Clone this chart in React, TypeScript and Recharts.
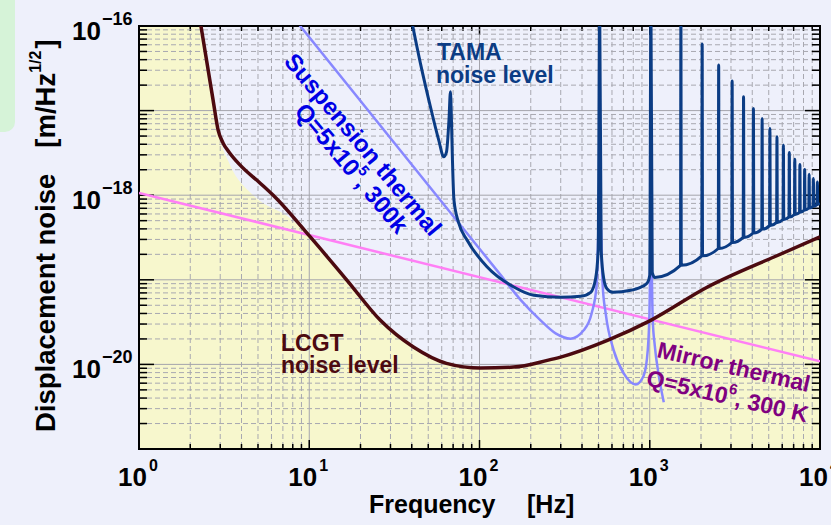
import React from 'react';
import { ComposedChart, Line, Area, XAxis, YAxis, ReferenceLine, ReferenceArea } from 'recharts';

const FONT = '"Liberation Sans", Arial, Helvetica, sans-serif';
const W = 831;
const H = 525;
const MARGIN = { top: 26, right: 11, bottom: 0, left: 0 };
const XAXIS_H = 76;
const YAXIS_W = 139;
const X_DOMAIN: [number, number] = [1, 10000];
const Y_DOMAIN: [number, number] = [1e-21, 1e-16];

// ---------- tick labels / grid values ----------
const xMajorTicks = [1, 10, 100, 1000, 10000];
const xTickExps = ['0', '1', '2', '3', '4'];
const xGridMajor = [10, 100, 1000];
const xGridMinor = [2, 3, 4, 5, 6, 7, 8, 9, 20, 30, 40, 50, 60, 70, 80, 90, 200, 300, 400, 500, 600, 700, 800, 900, 2000, 3000, 4000, 5000, 6000, 7000, 8000, 9000];
const yLabelTicks = [1e-20, 1e-18, 1e-16];
const yTickExps = ['\u221220', '\u221218', '\u221216'];
const yGridMajor = [1e-20, 1e-19, 1e-18, 1e-17];
const yGridMinor = [
  2e-21, 3e-21, 4e-21, 5e-21, 6e-21, 7e-21, 8e-21, 9e-21,
  2e-20, 3e-20, 4e-20, 5e-20, 6e-20, 7e-20, 8e-20, 9e-20,
  2e-19, 3e-19, 4e-19, 5e-19, 6e-19, 7e-19, 8e-19, 9e-19,
  2e-18, 3e-18, 4e-18, 5e-18, 6e-18, 7e-18, 8e-18, 9e-18,
  2e-17, 3e-17, 4e-17, 5e-17, 6e-17, 7e-17, 8e-17, 9e-17,
];

// ---------- series ----------
const lcgtFreq = [2.23, 2.724, 2.915, 3.12, 3.383, 3.928, 5.15, 6.31, 10.14, 16.67, 26.17, 40.91, 63.96, 101.4, 158.5, 250.2, 299.6, 564.0, 1013.7, 2185, 5363, 10000];
const lcgtNoise = [1.55e-16, 1.331e-17, 5.88e-18, 4.124e-18, 3.227e-18, 2.265e-18, 1.387e-18, 9.47e-19, 3.209e-19, 9.86e-20, 3.317e-20, 1.602e-20, 1.027e-20, 9.04e-21, 9.29e-21, 1.115e-20, 1.22e-20, 1.923e-20, 3.317e-20, 8.216e-20, 1.861e-19, 3.209e-19];

// yellow "LCGT sensitivity" region boundary
const yellowFreq = [1, 2.285, 2.724, 2.955, 3.43, 4.684, 7.731, 10.14, 16.67, 26.17, 40.91, 63.96, 101.4, 158.5, 250.2, 299.6, 564.0, 1013.7, 2185, 5363, 10000];
const yellowNoise = [2e-16, 1.0e-16, 1.331e-17, 5.13e-18, 2.265e-18, 1.0e-18, 5.34e-19, 3.209e-19, 9.86e-20, 3.317e-20, 1.602e-20, 1.027e-20, 9.04e-21, 9.29e-21, 1.115e-20, 1.22e-20, 1.923e-20, 3.317e-20, 8.216e-20, 1.861e-19, 3.209e-19];

const mirrorFreq = [1, 10000];
const mirrorNoise = [1.064e-18, 1.085e-20];

const suspFreq = [7.731, 58.96, 132.9, 174.3, 228.5, 280.0, 343.0, 409.1, 455.8, 487.6, 508, 529.0, 551.0, 614.2, 703.4, 827.4, 922.0, 973.2, 993.3, 1016, 1041.6, 1070, 1129.4, 1209];
const suspNoise = [1.402e-16, 8.73e-19, 1.143e-19, 5.8e-20, 3.317e-20, 2.327e-20, 2.014e-20, 2.526e-20, 4.014e-20, 8.61e-20, 8.73e-19, 8.61e-20, 4.014e-20, 1.465e-20, 7.82e-21, 5.8e-21, 7.41e-21, 1.465e-20, 3.317e-20, 2.934e-19, 3.317e-20, 1.679e-20, 7.41e-21, 3.58e-21];

const tamaFreq = [
  39.01, 44.98, 51.5, 57.62, 61.66, 63.96, 66.16, 67.51, 68.43, 69.37, 70.79, 75.24, 84.65, 111.0, 159.1, 208.6, 299.6, 392.8, 449.8, 481.2, 497.8,
  508, 518.5, 536.3, 558.6, 605.9, 773.1, 909.5, 973.2, 1000,
  1016, 1034.4, 1070,
  1516, 1524, 1532, 2022, 2032, 2042, 2527, 2540, 2553, 3033, 3048, 3063, 3538, 3556, 3574,
  4044, 4064, 4084, 4549, 4572, 4595, 5055, 5080, 5105, 5560, 5588, 5616, 6066, 6096, 6126,
  6571, 6604, 6637, 7076, 7112, 7148, 7582, 7620, 7658, 8087, 8128, 8169, 8593, 8636, 8679,
  9098, 9144, 9190, 9604, 9652, 9700, 10000,
];
const tamaNoise = [
  1.465e-16, 3.62e-17, 1.109e-17, 4.475e-18, 2.84e-18, 3.227e-18, 7.72e-18, 1.669e-17, 7.72e-18, 2.596e-18, 8.73e-19, 4.79e-19, 2.934e-19, 1.417e-19, 8.216e-20, 6.554e-20, 6.21e-20, 6.38e-20, 7.11e-20, 1.042e-19, 2.234e-19,
  1.8e-16, 2.234e-19, 1.042e-19, 7.93e-20, 7.11e-20, 7.51e-20, 8.37e-20, 9.34e-20, 1.13e-19,
  1.8e-16, 1.227e-19, 1.067e-19,
  1.481e-19, 1.8e-16, 1.481e-19, 1.919e-19, 6.12e-17, 1.919e-19, 2.345e-19, 3.454e-17, 2.345e-19, 2.762e-19, 2.234e-17, 2.762e-19, 3.173e-19, 1.456e-17, 3.173e-19,
  3.578e-19, 1.062e-17, 3.578e-19, 3.978e-19, 8.08e-18, 3.978e-19, 4.374e-19, 6.155e-18, 4.374e-19, 4.766e-19, 4.898e-18, 4.766e-19, 5.155e-19, 3.905e-18, 5.155e-19,
  5.537e-19, 3.2e-18, 5.537e-19, 5.918e-19, 2.667e-18, 5.918e-19, 6.298e-19, 2.308e-18, 6.298e-19, 6.674e-19, 2.014e-18, 6.674e-19, 7.047e-19, 1.772e-18, 7.047e-19,
  7.42e-19, 1.576e-18, 7.42e-19, 7.789e-19, 1.437e-18, 7.789e-19, 8.04e-19,
];

const zip = (fs: number[], vs: number[]) => fs.map((f, i) => ({ f, v: vs[i] }));
const lcgtData = zip(lcgtFreq, lcgtNoise);
const yellowData = zip(yellowFreq, yellowNoise);
const mirrorData = zip(mirrorFreq, mirrorNoise);
const suspData = zip(suspFreq, suspNoise);
const tamaData = zip(tamaFreq, tamaNoise);

// ---------- colors ----------
const C_TAMA = '#0b3c84';
const C_LCGT = '#4c0a10';
const C_SUSP = '#8888ff';
const C_MIRROR = '#ff7ff5';
const C_BG = '#eef0fb';
const C_YELLOW = '#f7f7cd';

const XTick = (props: any) => {
  const { x, y, payload } = props;
  const i = xMajorTicks.indexOf(payload.value);
  return (
    <g>
      <text x={x + 8} y={y + 37} textAnchor="end" fontSize={26} fontWeight="bold" fontFamily={FONT} fill="#000">10</text>
      <text x={x + 10} y={y + 22} textAnchor="start" fontSize={16} fontWeight="bold" fontFamily={FONT} fill="#000">{xTickExps[i]}</text>
    </g>
  );
};

const YTick = (props: any) => {
  const { x, y, payload } = props;
  const i = yLabelTicks.indexOf(payload.value);
  return (
    <g>
      <text x={x - 38} y={y + 14} textAnchor="end" fontSize={26} fontWeight="bold" fontFamily={FONT} fill="#000">10</text>
      <text x={x - 37} y={y - 1} textAnchor="start" fontSize={18} fontWeight="bold" fontFamily={FONT} fill="#000">{yTickExps[i]}</text>
    </g>
  );
};

const axes = (labels: boolean) => [
  <XAxis
    key="xa"
    type="number"
    dataKey="f"
    scale="log"
    domain={X_DOMAIN}
    allowDataOverflow
    ticks={xMajorTicks}
    interval={0}
    height={XAXIS_H}
    tickSize={0}
    tickMargin={0}
    axisLine={false}
    tickLine={false}
    tick={labels ? (p: any) => <XTick {...p} /> : false}
  />,
  <YAxis
    key="ya"
    type="number"
    dataKey="v"
    scale="log"
    domain={Y_DOMAIN}
    allowDataOverflow
    ticks={yLabelTicks}
    interval={0}
    width={YAXIS_W}
    tickSize={0}
    tickMargin={0}
    axisLine={false}
    tickLine={false}
    tick={labels ? (p: any) => <YTick {...p} /> : false}
  />,
];

const vGrid = (major: boolean) => (p: any) => {
  const top = Math.min(p.y1, p.y2);
  const bot = Math.max(p.y1, p.y2);
  const t = major ? 9 : 5;
  return (
    <g>
      <line x1={p.x1} x2={p.x1} y1={top} y2={bot} stroke={major ? '#a4a4ac' : '#a8a8b0'} strokeWidth={1} strokeDasharray={major ? undefined : '5 3'} />
      <line x1={p.x1} x2={p.x1} y1={bot} y2={bot - t} stroke="#000" strokeWidth={1.5} />
      <line x1={p.x1} x2={p.x1} y1={top} y2={top + t} stroke="#000" strokeWidth={1.5} />
    </g>
  );
};

const hGrid = (major: boolean) => (p: any) => {
  const l = Math.min(p.x1, p.x2);
  const r = Math.max(p.x1, p.x2);
  const t = major ? 15 : 8;
  return (
    <g>
      <line x1={l} x2={r} y1={p.y1} y2={p.y1} stroke={major ? '#a4a4ac' : '#a8a8b0'} strokeWidth={1} strokeDasharray={major ? undefined : '5 3'} />
      <line x1={l} x2={l + t} y1={p.y1} y2={p.y1} stroke="#000" strokeWidth={1.5} />
      <line x1={r} x2={r - t} y1={p.y1} y2={p.y1} stroke="#000" strokeWidth={1.5} />
    </g>
  );
};

const layerStyle: React.CSSProperties = { position: 'absolute', left: 0, top: 0 };

export default function App() {
  return (
    <div style={{ position: 'absolute', left: 0, top: 0, width: W, height: H, background: C_BG, overflow: 'hidden', fontFamily: FONT }}>
      <div style={{ position: 'absolute', left: 0, top: 0, width: 15, height: 132, background: '#d6f3d8', borderBottomRightRadius: 10 }} />

      {/* layer 1: yellow region */}
      <div style={layerStyle}>
        <ComposedChart width={W} height={H} margin={MARGIN}>
          {axes(false)}
          <Area data={yellowData} dataKey="v" type="monotone" baseValue={1e-21} fill={C_YELLOW} fillOpacity={1} stroke="none" isAnimationActive={false} />
        </ComposedChart>
      </div>

      {/* layer 2: grid + inward ticks */}
      <div style={layerStyle}>
        <ComposedChart width={W} height={H} margin={MARGIN}>
          {axes(false)}
          <Line data={mirrorData} dataKey="v" stroke="none" dot={false} isAnimationActive={false} />
          {xGridMinor.map((v) => (
            <ReferenceLine key={'xm' + v} x={v} shape={vGrid(false)} />
          ))}
          {xGridMajor.map((v) => (
            <ReferenceLine key={'xM' + v} x={v} shape={vGrid(true)} />
          ))}
          {yGridMinor.map((v) => (
            <ReferenceLine key={'ym' + v} y={v} shape={hGrid(false)} />
          ))}
          {yGridMajor.map((v) => (
            <ReferenceLine key={'yM' + v} y={v} shape={hGrid(true)} />
          ))}
        </ComposedChart>
      </div>

      {/* layer 3: curves, axis labels, frame */}
      <div style={layerStyle}>
        <ComposedChart width={W} height={H} margin={MARGIN}>
          {axes(true)}
          <Line data={mirrorData} dataKey="v" type="linear" stroke={C_MIRROR} strokeWidth={2.5} dot={false} isAnimationActive={false} />
          <Line data={suspData} dataKey="v" type="monotone" stroke={C_SUSP} strokeWidth={2.5} dot={false} isAnimationActive={false} />
          <Line data={lcgtData} dataKey="v" type="monotone" stroke={C_LCGT} strokeWidth={3.5} dot={false} isAnimationActive={false} />
          <Line data={tamaData} dataKey="v" type="monotone" stroke={C_TAMA} strokeWidth={3} dot={false} isAnimationActive={false} strokeLinejoin="round" />
          <ReferenceArea x1={1} x2={10000} y1={1e-21} y2={1e-16} fill="none" fillOpacity={0} stroke="#000" strokeWidth={2} ifOverflow="visible" />
        </ComposedChart>
      </div>

      {/* layer 4: titles & annotations */}
      <svg width={W} height={H} style={{ position: 'absolute', left: 0, top: 0, pointerEvents: 'none' }} fontFamily={FONT} fontWeight="bold">
        <text x={369} y={513} fontSize={25} fill="#000">Frequency</text>
        <text x={527} y={513} fontSize={25} fill="#000">[Hz]</text>

        <g transform="translate(55,432) rotate(-90)">
          <text x={0} y={0} fontSize={27.5} fill="#000">
            Displacement noise
            <tspan dx={26}>[m/Hz</tspan>
            <tspan dy={-14} fontSize={16}>1/2</tspan>
            <tspan dy={14} dx={2}>]</tspan>
          </text>
        </g>

        <text x={437} y={60} fontSize={23} fill={C_TAMA}>TAMA</text>
        <text x={436} y={83} fontSize={23} fill={C_TAMA}>noise level</text>

        <text x={281} y={351} fontSize={23} fill={C_LCGT}>LCGT</text>
        <text x={281} y={373} fontSize={23} fill={C_LCGT}>noise level</text>

        <g transform="translate(283,62) rotate(50)">
          <text x={0} y={0} fontSize={24} fill="#0000e6">Suspension thermal</text>
          <text x={45} y={24} fontSize={24} fill="#0000e6">
            Q=5x10
            <tspan dy={-11} fontSize={15}>5</tspan>
            <tspan dy={11}>, 300k</tspan>
          </text>
        </g>

        <g transform="translate(656,357) rotate(13)">
          <text x={0} y={0} fontSize={23} fill="#800080">Mirror thermal</text>
          <text x={-4} y={30} fontSize={23} fill="#800080">
            Q=5x10
            <tspan dy={-11} fontSize={15}>6</tspan>
            <tspan dy={11}>, 300 K</tspan>
          </text>
        </g>
      </svg>
    </div>
  );
}
